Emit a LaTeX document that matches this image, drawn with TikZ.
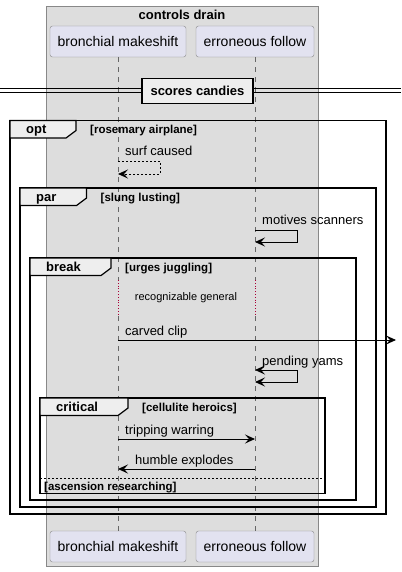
\documentclass[tikz,border=0pt]{standalone}
\usepackage{fontspec}
\setmainfont{Liberation Sans}
\usetikzlibrary{arrows.meta}
\definecolor{boxgray}{HTML}{DDDDDD}
\definecolor{boxline}{HTML}{888888}
\definecolor{partfill}{HTML}{E2E2F0}
\definecolor{tabfill}{HTML}{EEEEEE}
\definecolor{delayred}{HTML}{A80036}

\begin{document}
\begin{tikzpicture}[x=1pt, y=-1pt,
		part/.style={draw=boxline, fill=partfill, rounded corners=2.5pt, minimum height=31pt, inner sep=0pt, font=\fontsize{14}{16}\selectfont},
		msgtext/.style={anchor=base west, inner sep=0pt, font=\fontsize{13}{15}\selectfont},
		grouptext/.style={anchor=base west, inner sep=0pt, font=\bfseries\fontsize{11.5}{13}\selectfont},
		msg/.style={line width=0.9pt, -{Stealth[length=10pt,width=9pt,inset=4pt]}},
		lifeline/.style={draw=black!60, dash pattern=on 5pt off 5pt, line width=0.8pt}]
		\useasboundingbox (0,0) rectangle (401,572);

		% box round the participants
		\draw[draw=boxline, fill=boxgray] (46,6) rectangle (318,566);
		\node[anchor=base, inner sep=0pt, font=\bfseries\fontsize{13}{15}\selectfont] (boxTitle) at (182,19.5) {controls drain};

		% participants
		\node[part, minimum width=136pt] (bmTop) at (118,41.5) {bronchial makeshift};
		\node[part, minimum width=118pt] (efTop) at (255,41.5) {erroneous follow};
		\node[part, minimum width=136pt] (bmBot) at (118,546.5) {bronchial makeshift};
		\node[part, minimum width=118pt] (efBot) at (255,546.5) {erroneous follow};

		% lifelines, with the delay
		\coordinate (bmDelayA) at (118,280);
		\coordinate (bmDelayB) at (118,316);
		\coordinate (efDelayA) at (255,280);
		\coordinate (efDelayB) at (255,316);
		\draw[lifeline] (bmTop.south) -- (bmDelayA);
		\draw[lifeline] (bmDelayB) -- (bmBot.north);
		\draw[lifeline] (efTop.south) -- (efDelayA);
		\draw[lifeline] (efDelayB) -- (efBot.north);
		\draw[delayred, dotted, line width=0.8pt] (bmDelayA) -- (bmDelayB);
		\draw[delayred, dotted, line width=0.8pt] (efDelayA) -- (efDelayB);
		\node[anchor=base, inner sep=0pt, font=\fontsize{11}{13}\selectfont] (delayText) at (186,300.5) {recognizable general};

		% divider
		\draw[line width=1.2pt] (0,88.5) -- (401,88.5);
		\draw[line width=1.2pt] (0,92.5) -- (401,92.5);
		\node[draw, line width=1.5pt, fill=tabfill, minimum width=111pt, minimum height=25pt, inner sep=0pt, font=\bfseries\fontsize{13}{15}\selectfont] (scores) at (197.5,91) {scores candies};

		% group frames: left/top/right/bottom/tab end/name/condition
		\foreach \fl/\ft/\fr/\fb/\tr/\lbl/\cnd in {10/120.5/386/514/76/opt/rosemary airplane,
				20/188/376/507/86.5/par/slung lusting,
				30/258/356/500/111/break/urges juggling,
				40/398/325/493.5/128/critical/cellulite heroics} {
			\draw[line width=1.5pt] (\fl,\ft) rectangle (\fr,\fb);
			\draw[line width=1.2pt, fill=tabfill] (\fl,\ft) -- (\tr,\ft) -- (\tr,\ft+10) -- (\tr-10,\ft+17.5) -- (\fl,\ft+17.5) -- cycle;
			\node[anchor=base west, inner sep=0pt, font=\bfseries\fontsize{13}{15}\selectfont] at (\fl+16,\ft+13) {\lbl};
			\node[grouptext] at (\tr+14,\ft+13) {[\cnd]};
		}
		\draw[line width=0.8pt, dash pattern=on 2pt off 2pt] (40,478) -- (325,478);
		\node[grouptext] (elseText) at (44,490) {[ascension researching]};

		% messages
		\coordinate (bmSurfA) at (118,161);
		\coordinate (bmSurfB) at (118,174);
		\draw[msg, line width=0.8pt, dash pattern=on 2pt off 2pt] (bmSurfA) -- ++(42,0) |- (bmSurfB);
		\node[msgtext] (surfText) at (125,156) {surf caused};

		\coordinate (efMotA) at (255,230);
		\coordinate (efMotB) at (255,242);
		\draw[msg] (efMotA) -- ++(42,0) |- (efMotB);
		\node[msgtext] (motText) at (262,224) {motives scanners};

		\coordinate (bmCarved) at (118,340);
		\coordinate (outRight) at (396,340);
		\draw[msg] (bmCarved) -- (outRight);
		\node[msgtext] (carvedText) at (125,335) {carved clip};

		\coordinate (efPendA) at (255,370);
		\coordinate (efPendB) at (255,382);
		\draw[msg, {Stealth[length=10pt,width=9pt,inset=4pt]}-{Stealth[length=10pt,width=9pt,inset=4pt]}] (efPendA) -- ++(42,0) |- (efPendB);
		\node[msgtext] (pendText) at (262,365) {pending yams};

		\coordinate (bmTrip) at (118,439);
		\coordinate (efTrip) at (255,439);
		\draw[msg] (bmTrip) -- (efTrip);
		\node[msgtext] (tripText) at (125,434) {tripping warring};

		\coordinate (efHumble) at (255,469);
		\coordinate (bmHumble) at (118,469);
		\draw[msg] (efHumble) -- (bmHumble);
		\node[msgtext] (humbleText) at (135,464.5) {humble explodes};
	\end{tikzpicture}
\end{document}
